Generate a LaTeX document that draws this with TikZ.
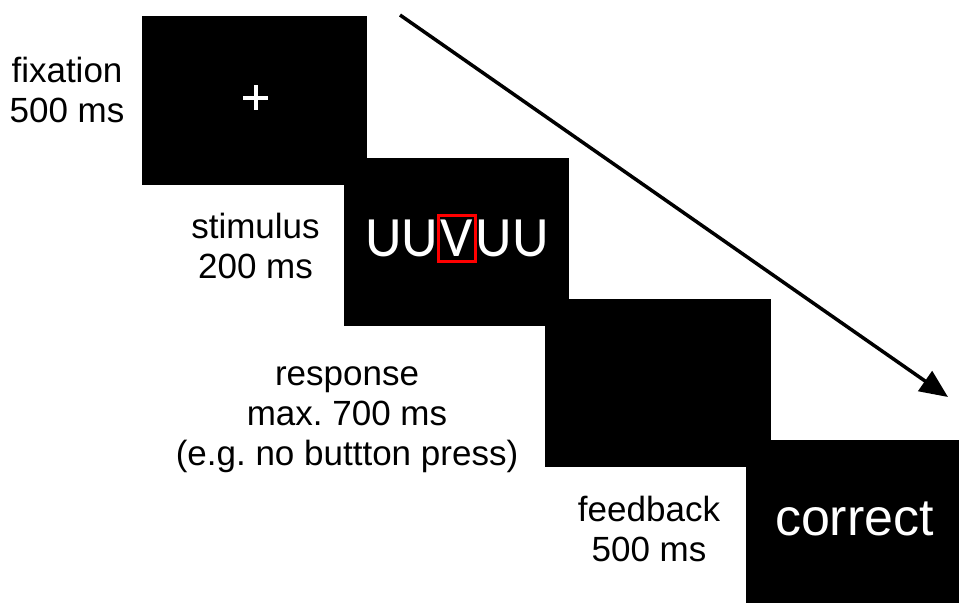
\documentclass[tikz,border=0pt]{standalone}
\usepackage{fontspec}
\setmainfont{Liberation Sans}
\newfontfamily\stimfont{Carlito}
\usetikzlibrary{arrows.meta}
\frenchspacing
\begin{document}
\begin{tikzpicture}[x=1pt,y=-1pt,
  screen/.style={fill=black,draw=none,inner sep=0pt,outer sep=0pt,anchor=north west},
  lbl/.style={font=\fontsize{35}{40}\selectfont,align=center,anchor=base,inner sep=0pt},
  stim/.style={font=\stimfont\fontsize{57}{60}\selectfont,text=white,inner sep=0pt,outer sep=0pt},
  timearrow/.style={line width=3.5pt,-{Triangle[length=28pt,width=24pt]}},
]
\useasboundingbox (0,0) rectangle (959,603);
\fill[white] (0,0) rectangle (959,603);
% screens
\node[screen,minimum width=225pt,minimum height=169pt] (s1) at (142,16) {};
\node[screen,minimum width=225pt,minimum height=168pt] (s2) at (344,158) {};
\node[screen,minimum width=226pt,minimum height=168pt] (s3) at (545,299) {};
\node[screen,minimum width=213pt,minimum height=163pt] (s4) at (746,440) {};
% fixation cross
\draw[white,line width=4pt] (255.5,85) -- (255.5,110) (243,97.5) -- (268,97.5);
% stimulus
\node[stim,draw=red,line width=3pt,minimum width=37pt,minimum height=46pt] (V) at (457,238.5) {V};
\node[stim,anchor=base east] (UUl) at (V.base west) {UU};
\node[stim,anchor=base west] (UUr) at (V.base east) {UU};
% feedback text
\node[font=\fontsize{52}{56}\selectfont,text=white,anchor=base,inner sep=0pt] (corr) at (854.5,535) {correct};
% labels (anchor base = baseline of last line)
\node[lbl] (l1) at (67,122) {fixation\\500 ms};
\node[lbl] (l2) at (255.5,278) {stimulus\\200 ms};
\node[lbl] (l3) at (347,465) {response\\max. 700 ms\\(e.g. no buttton press)};
\node[lbl] (l4) at (649,561) {feedback\\500 ms};
% time arrow
\coordinate (a0) at (400,15);
\coordinate (a1) at (948,397);
\draw[timearrow] (a0) -- (a1);
\end{tikzpicture}
\end{document}
